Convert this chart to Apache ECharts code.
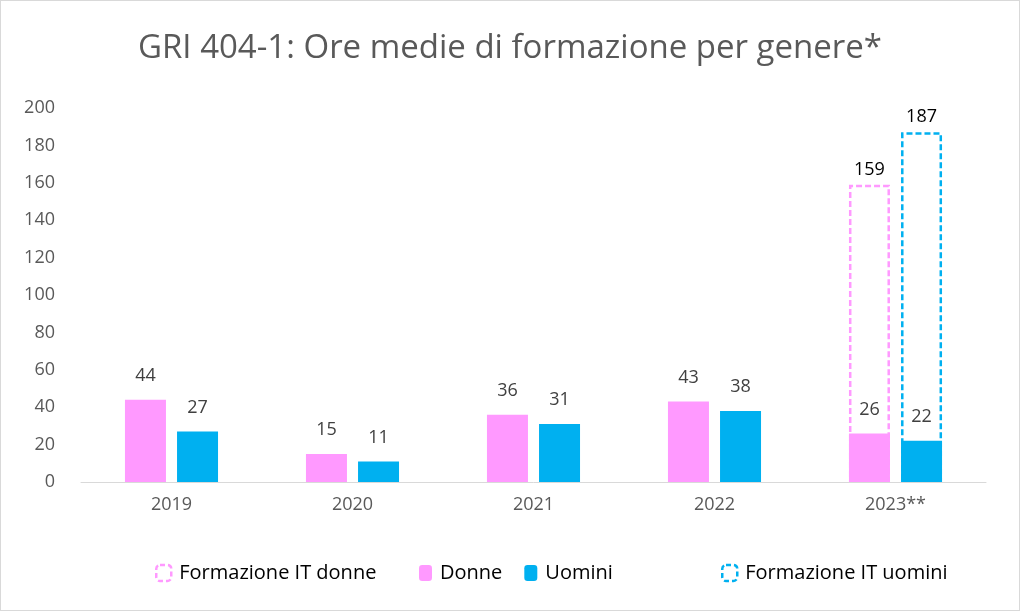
<!DOCTYPE html>
<html>
<head>
<meta charset="utf-8">
<script src="https://cdn.jsdelivr.net/npm/echarts@6/dist/echarts.min.js"></script>
<style>
html,body{margin:0;padding:0;background:#fff;}
#c{width:1020px;height:611px;border:1px solid #d9d9d9;box-sizing:border-box;}
</style>
</head>
<body>
<div id="c"></div>
<script>
const categories = ['2019', '2020', '2021', '2022', '2023**'];
const donne = [44, 15, 36, 43, 26];
const uomini = [27, 11, 31, 38, 22];
const itDonne = [null, null, null, null, 159];
const itUomini = [null, null, null, null, 187];
const yTicks = {min: 0, max: 200, interval: 20};

const PINK = '#FF99FF';
const BLUE = '#00B0F0';
const font = 'Open Sans';

const chart = echarts.init(document.getElementById('c'));
const labelStyle = {show: true, position: 'top', distance: 15, fontFamily: font, fontSize: 18, color: '#404040'};
const legendText = {fontFamily: font, fontSize: 20, color: '#000', padding: [0, 0, 0, 3]};
const dashedIcon = (c) => ({color: '#fff', borderColor: c, borderWidth: 2.5, borderType: [5, 3]});
chart.setOption({
  animation: false,
  title: {
    text: 'GRI 404-1: Ore medie di formazione per genere*',
    left: 'center', top: 26,
    textStyle: {fontFamily: font, fontSize: 33, fontWeight: 'normal', color: '#595959'}
  },
  legend: [
    {left: 149, top: 557, itemWidth: 15, itemHeight: 16, textStyle: legendText,
     data: [{name: 'Formazione IT donne', itemStyle: dashedIcon(PINK)}]},
    {left: 413, top: 557, itemWidth: 13, itemHeight: 16, itemGap: 22, textStyle: legendText,
     data: ['Donne', 'Uomini']},
    {left: 715, top: 557, itemWidth: 15, itemHeight: 16, textStyle: legendText,
     data: [{name: 'Formazione IT uomini', itemStyle: dashedIcon(BLUE)}]}
  ],
  grid: {left: 80, right: 33, top: 107, bottom: 128, containLabel: false},
  xAxis: [
    {type: 'category', data: categories,
     axisLine: {lineStyle: {color: '#d9d9d9', width: 1}}, axisTick: {show: false},
     axisLabel: {fontFamily: font, fontSize: 18, color: '#595959', margin: 14}},
    {type: 'category', data: categories, show: false}
  ],
  yAxis: {
    type: 'value', min: yTicks.min, max: yTicks.max, interval: yTicks.interval,
    splitLine: {show: false}, axisLine: {show: false}, axisTick: {show: false},
    axisLabel: {fontFamily: font, fontSize: 18, color: '#595959', margin: 26}
  },
  series: [
    {name: 'Formazione IT donne', type: 'bar', xAxisIndex: 1, data: itDonne, barWidth: 41, barGap: '27%', z: 1,
     itemStyle: {color: 'rgba(255,255,255,0)', borderColor: PINK, borderWidth: 2.5, borderType: [6, 3]},
     label: Object.assign({}, labelStyle, {color: '#000', distance: 6})},
    {name: 'Formazione IT uomini', type: 'bar', xAxisIndex: 1, data: itUomini, barWidth: 41, barGap: '27%', z: 1,
     itemStyle: {color: 'rgba(255,255,255,0)', borderColor: BLUE, borderWidth: 2.5, borderType: [6, 3]},
     label: Object.assign({}, labelStyle, {color: '#000', distance: 6})},
    {name: 'Donne', type: 'bar', xAxisIndex: 0, data: donne, barWidth: 41, barGap: '27%', z: 3,
     itemStyle: {color: PINK}, label: labelStyle},
    {name: 'Uomini', type: 'bar', xAxisIndex: 0, data: uomini, barWidth: 41, barGap: '27%', z: 3,
     itemStyle: {color: BLUE}, label: labelStyle}
  ]
});
</script>
</body>
</html>
